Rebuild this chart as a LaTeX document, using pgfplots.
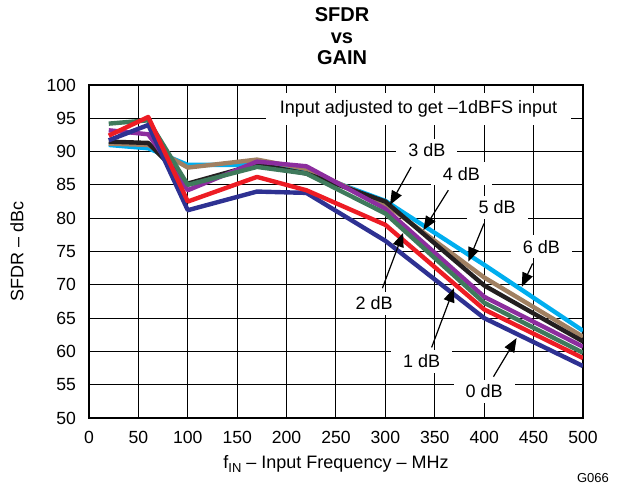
\documentclass[border=0pt]{standalone}
\usepackage{fontspec}
\setmainfont{Liberation Sans}
\usepackage{pgfplots}
\pgfplotsset{compat=1.18}
\usetikzlibrary{arrows.meta}
\definecolor{cNavy}{HTML}{2E3192}
\definecolor{cRed}{HTML}{ED1C24}
\definecolor{cGreen}{HTML}{3F7A5C}
\definecolor{cPurple}{HTML}{8C2D9E}
\definecolor{cBlack}{HTML}{231F20}
\definecolor{cBrown}{HTML}{A08062}
\definecolor{cCyan}{HTML}{00AEEF}
\begin{document}
\begin{tikzpicture}[font=\fontsize{9}{10.8}\selectfont]
\path[use as bounding box] (-44.5pt,-35pt) rectangle (264pt,209pt);
\begin{axis}[
  at={(0pt,0pt)}, anchor=south west,
  scale only axis, width=247pt, height=166.5pt,
  xmin=0, xmax=500, ymin=50, ymax=100,
  xtick={0,50,...,500}, ytick={50,55,...,100},
  grid=major, major grid style={black, line width=0.5pt},
  major tick length=0pt,
  axis line style={line width=0.8pt},
  /pgf/number format/assume math mode=true,
  ticklabel style={font=\fontsize{8.8}{10}\selectfont},
  xticklabel style={yshift=-3pt},
  yticklabel style={xshift=-3pt},
  every axis plot/.append style={line width=2.2pt, line join=round, mark=none},
]
\addplot[cCyan] coordinates {(20,91.0) (60,90.5) (100,88.0) (170,88.0) (220,87.0) (300,82.6) (400,73.0) (500,63.1)};
\addplot[cBrown] coordinates {(20,91.2) (60,91.0) (100,87.6) (170,88.8) (220,87.4) (300,82.1) (400,71.1) (500,62.2)};
\addplot[cBlack] coordinates {(20,91.5) (60,91.3) (100,85.2) (170,88.1) (220,86.7) (300,82.5) (400,69.9) (500,61.5)};
\addplot[cPurple] coordinates {(20,93.2) (60,92.6) (100,84.2) (170,88.5) (220,87.8) (300,81.4) (400,68.2) (500,60.7)};
\addplot[cGreen] coordinates {(20,94.2) (60,94.7) (100,85.0) (170,87.7) (220,86.7) (300,80.7) (400,67.3) (500,59.8)};
\addplot[cNavy] coordinates {(20,91.7) (60,94.0) (100,81.2) (170,84.0) (220,83.8) (300,76.6) (400,65.0) (500,57.8)};
\addplot[cRed] coordinates {(20,92.4) (60,95.2) (100,82.5) (170,86.2) (220,84.2) (300,79.0) (400,66.3) (500,59.0)};
% arrows
\begin{scope}[line width=0.6pt, -{Triangle[length=7pt,width=5.5pt]}]
\draw (axis cs:326,87.7) -- (axis cs:304.7,82.0);
\draw (axis cs:363.7,84.2) -- (axis cs:338.4,78.2);
\draw (axis cs:399.8,79.2) -- (axis cs:384,73.5);
\draw (axis cs:449,73.2) -- (axis cs:438,69.7);
\draw (axis cs:297,69.5) -- (axis cs:318,77.8);
\draw (axis cs:346.8,60.6) -- (axis cs:369.4,69.5);
\draw (axis cs:409.4,56.2) -- (axis cs:432.8,62.0);
\end{scope}
\begin{scope}[every node/.style={fill=white, inner xsep=6pt, inner ysep=2.5pt}]
\node at (axis cs:333.5,96.4) [inner xsep=7pt, inner ysep=4pt] {Input adjusted to get –1dBFS input};
\node at (axis cs:342,90.2) {3 dB};
\node at (axis cs:377,86.7) {4 dB};
\node at (axis cs:413,81.6) {5 dB};
\node at (axis cs:458,75.7) {6 dB};
\node at (axis cs:288.5,67.2) {2 dB};
\node at (axis cs:336.6,58.5) {1 dB};
\node at (axis cs:400,54) {0 dB};
\end{scope}
\end{axis}
\node[anchor=base, font=\fontsize{10}{12}\selectfont\bfseries] at (126.5pt,198pt) {SFDR};
\node[anchor=base, font=\fontsize{10}{12}\selectfont\bfseries] at (126.5pt,187pt) {vs};
\node[anchor=base, font=\fontsize{10}{12}\selectfont\bfseries] at (126.5pt,176.5pt) {GAIN};
\node[rotate=90] at (-36pt,83.25pt) {SFDR – dBc};
\node[anchor=base] at (123.5pt,-25pt) {f\raisebox{-0.45ex}{\fontsize{6.5}{7}\selectfont IN} – Input Frequency – MHz};
\node[anchor=base east, font=\fontsize{6.5}{7}\selectfont] at (263.5pt,-32pt) {G066};
\end{tikzpicture}
\end{document}
